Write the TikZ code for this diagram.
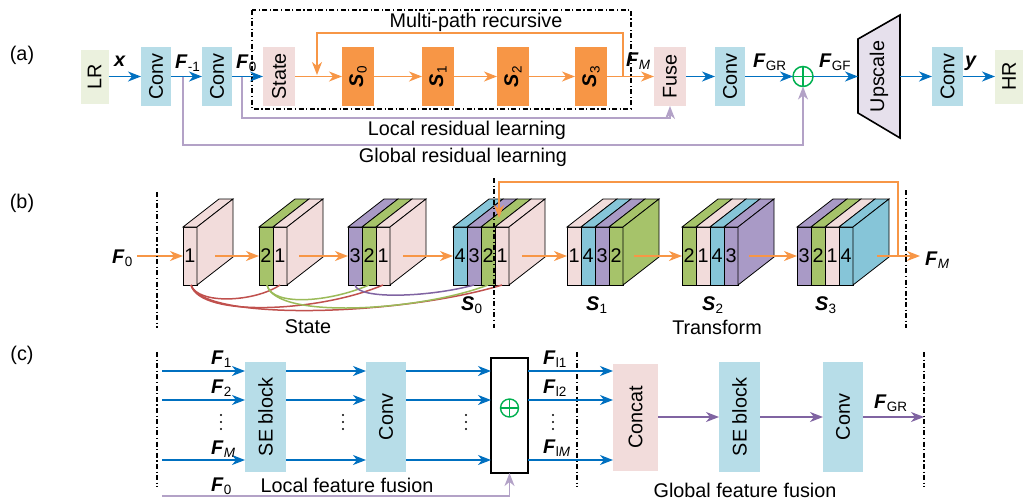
\documentclass[tikz,border=0pt]{standalone}
\usepackage{fontspec}
\setmainfont{Liberation Sans}
\usepackage{graphicx}
\usetikzlibrary{arrows.meta}
\definecolor{cblue}{HTML}{0070C0}
\definecolor{corange}{HTML}{F79646}
\definecolor{cpurl}{HTML}{B3A2C7}
\definecolor{cpurd}{HTML}{8064A2}
\definecolor{pgreen}{HTML}{00B050}
\definecolor{lrc}{HTML}{EBF1DE}
\definecolor{convc}{HTML}{B7DDE8}
\definecolor{pinkc}{HTML}{F2DCDB}
\definecolor{upc}{HTML}{E6E0EC}
\definecolor{Lpink}{HTML}{F2DCDB}
\definecolor{Lgreen}{HTML}{A6C36A}
\definecolor{Lblue}{HTML}{86C5D8}
\definecolor{Lpurp}{HTML}{A99AC6}
\definecolor{cred}{HTML}{C0504D}
\definecolor{cgrn}{HTML}{9BBB59}
\newcommand\Fl[1]{\textbf{\textit{F}}\kern0.3pt\raisebox{-3.5pt}{\fontsize{13.5}{14}\selectfont #1}}
\newcommand\Sl[1]{\textbf{\textit{S}}\kern0.3pt\raisebox{-3.5pt}{\fontsize{13.5}{14}\selectfont #1}}
\newcommand\vdotsat[2]{%
  \fill[black] (#1,{#2-7}) circle (1.1pt) (#1,#2) circle (1.1pt) (#1,{#2+7}) circle (1.1pt);}
\newcommand\lay[4]{%
  \filldraw[fill=#2, draw=black, line width=0.8pt] (#1,227) rectangle ++(14,58);
  \filldraw[fill=#2, draw=black, line width=0.8pt] (#1,227) -- ++(36,-28) -- ++(14,0) -- ++(-36,28) -- cycle;
  \node (#4) at ({#1+7},256) {#3};}
\newcommand\sidef[2]{%
  \filldraw[fill=#2, draw=black, line width=0.8pt] (#1,227) -- ++(36,-28) -- ++(0,58) -- ++(-36,28) -- cycle;}
\begin{document}
\begin{tikzpicture}[x=1pt,y=-1pt,
  every node/.style={inner sep=0pt, outer sep=0pt},
  font=\fontsize{19.8}{23}\selectfont,
  tipx/.style={-{Stealth[length=13pt,width=10pt,inset=4pt]}},
  ba/.style={draw=cblue, line width=1.6pt, tipx},
  oa/.style={draw=corange, line width=1.6pt, tipx},
  pa/.style={draw=cpurl, line width=1.6pt, tipx},
  pda/.style={draw=cpurd, line width=1.6pt, tipx},
  dd/.style={draw=black, line width=1.1pt, dash pattern=on 5pt off 2.5pt on 1.2pt off 2.5pt},
  convbox/.style={fill=convc, minimum width=30pt, minimum height=59pt},
  pinkbox/.style={fill=pinkc, minimum width=32pt, minimum height=59pt},
  sbox/.style={fill=corange, minimum width=32pt, minimum height=59pt},
  lrbox/.style={fill=lrc, minimum width=28pt, minimum height=54pt},
  tallbox/.style={minimum width=41pt, minimum height=110pt},
  lbl/.style={anchor=base west},
  curve/.style={line width=1.5pt}
]
\useasboundingbox (0,0) rectangle (1024,501);

% ---------------- (a) ----------------
\node (la) at (22,55) {(a)};
\draw[dd] (252,10) rectangle (631,109);
\node (mpr) at (476,22) {Multi-path recursive};

\node[lrbox] (lr) at (94.5,76.5) {\rotatebox{90}{LR}};
\node[convbox] (c1) at (156,76.5) {\rotatebox{90}{Conv}};
\node[convbox] (c2) at (217,76.5) {\rotatebox{90}{Conv}};
\node[pinkbox] (st) at (279,76.5) {\rotatebox{90}{State}};
\node[sbox] (s0) at (358,76.5) {\rotatebox{90}{\Sl{0}}};
\node[sbox] (s1) at (438,76.5) {\rotatebox{90}{\Sl{1}}};
\node[sbox] (s2) at (513,76.5) {\rotatebox{90}{\Sl{2}}};
\node[sbox] (s3) at (591,76.5) {\rotatebox{90}{\Sl{3}}};
\node[pinkbox] (fu) at (670,76.5) {\rotatebox{90}{Fuse}};
\node[convbox] (c3) at (730,76.5) {\rotatebox{90}{Conv}};
\node[circle, draw=pgreen, line width=1.5pt, minimum size=20pt] (pl) at (803,76.5) {};
\draw[pgreen, line width=1.5pt] (pl.north) -- (pl.south) (pl.west) -- (pl.east);
\filldraw[fill=upc, draw=black, line width=1.6pt] (858,39) -- (900,15) -- (900,138) -- (858,113) -- cycle;
\node (up) at (879,76.5) {\rotatebox{90}{Upscale}};
\coordinate (upW) at (858,76.5);
\coordinate (upE) at (900,76.5);
\node[convbox, minimum width=31pt] (c4) at (947.5,76.5) {\rotatebox{90}{Conv}};
\node[lrbox] (hr) at (1009,76.5) {\rotatebox{90}{HR}};

\draw[ba] (lr.east) -- (c1.west);
\draw[ba] (c1.east) -- (c2.west);
\draw[ba] (c2.east) -- (st.west);
\draw[oa] (st.east) -- (s0.west);
\draw[oa] (s0.east) -- (s1.west);
\draw[oa] (s1.east) -- (s2.west);
\draw[oa] (s2.east) -- (s3.west);
\draw[oa] (s3.east) -- (fu.west);
\coordinate (fbA) at (623,76.5);
\coordinate (fbB) at (317,33);
\coordinate (fbC) at (317,75);
\draw[oa] (fbA) |- (fbB) -- (fbC);
\draw[ba] (fu.east) -- (c3.west);
\draw[ba] (c3.east) -- (pl.west);
\draw[ba] (pl.east) -- (upW);
\draw[ba] (upE) -- (c4.west);
\draw[ba] (c4.east) -- (hr.west);

\coordinate (lrA) at (242,76.5);
\draw[pa] (lrA) -- ++(0,41.5) -| (fu.south);
\coordinate (grA) at (183,76.5);
\draw[pa] (grA) -- ++(0,68.5) -| (pl.south);
\node (lrl) at (467,130) {Local residual learning};
\node (grl) at (463,157) {Global residual learning};

\node[lbl] (xl) at (114,66) {\textbf{\textit{x}}};
\node[lbl] (fm1) at (175,68) {\Fl{-1}};
\node[lbl] (f0a) at (236,68) {\Fl{0}};
\node[lbl] (fma) at (626,66) {\Fl{\textit{M}}};
\node[lbl] (fgra) at (753,67) {\Fl{GR}};
\node[lbl] (fgfa) at (819,67) {\Fl{GF}};
\node[lbl] (yl) at (965,66) {\textbf{\textit{y}}};

% ---------------- (b) ----------------
\node (lb) at (22,203) {(b)};
\lay{183}{Lpink}{1}{b1a}
\sidef{197}{Lpink}
\lay{259}{Lgreen}{2}{b2a}
\lay{273}{Lpink}{1}{b2b}
\sidef{287}{Lpink}
\lay{348}{Lpurp}{3}{b3a}
\lay{362}{Lgreen}{2}{b3b}
\lay{376}{Lpink}{1}{b3c}
\sidef{390}{Lpink}
\lay{453}{Lblue}{4}{b4a}
\lay{467}{Lpurp}{3}{b4b}
\lay{481}{Lgreen}{2}{b4c}
\lay{495}{Lpink}{1}{b4d}
\sidef{509}{Lpink}
\lay{567}{Lpink}{1}{b5a}
\lay{581}{Lblue}{4}{b5b}
\lay{595}{Lpurp}{3}{b5c}
\lay{609}{Lgreen}{2}{b5d}
\sidef{623}{Lgreen}
\lay{682}{Lgreen}{2}{b6a}
\lay{696}{Lpink}{1}{b6b}
\lay{710}{Lblue}{4}{b6c}
\lay{724}{Lpurp}{3}{b6d}
\sidef{738}{Lpurp}
\lay{797}{Lpurp}{3}{b7a}
\lay{811}{Lgreen}{2}{b7b}
\lay{825}{Lpink}{1}{b7c}
\lay{839}{Lblue}{4}{b7d}
\sidef{853}{Lblue}

% curves
\coordinate (u1) at (191,285);
\coordinate (u2g) at (267,285);
\coordinate (u2p) at (280,285);
\coordinate (u3u) at (355,285);
\coordinate (u3g) at (369,285);
\coordinate (u3p) at (383,285);
\coordinate (u4u) at (474,285);
\coordinate (u4g) at (488,285);
\coordinate (u4p) at (502,285);
\draw[cred, curve] (u1) .. controls (198,305) and (255,302) .. (u2p);
\draw[cred, curve] (u1) .. controls (200,318) and (320,312) .. (u3p);
\draw[cred, curve] (u1) .. controls (202,322) and (400,316) .. (u4p);
\draw[cgrn, curve] (u2g) .. controls (272,307) and (330,302) .. (u3g);
\draw[cgrn, curve] (u2g) .. controls (275,320) and (420,311) .. (u4g);
\draw[cpurd, curve] (u3u) .. controls (358,300) and (430,297) .. (u4u);

% orange arrows
\coordinate (f0in) at (137,256);
\coordinate (o1) at (215,256);
\coordinate (o2) at (299,256);
\coordinate (o3) at (403,256);
\coordinate (o4) at (522,256);
\coordinate (o5) at (634,256);
\coordinate (o6) at (749,256);
\coordinate (o7) at (877,256);
\coordinate (fmout) at (920,256);
\draw[oa] (f0in) -- (b1a.west -| 183,256);
\draw[oa] (o1) -- (259,256);
\draw[oa] (o2) -- (348,256);
\draw[oa] (o3) -- (453,256);
\draw[oa] (o4) -- (567,256);
\draw[oa] (o5) -- (682,256);
\draw[oa] (o6) -- (797,256);
\draw[oa] (o7) -- (fmout);
\coordinate (fb2A) at (898,256);
\coordinate (fb2B) at (499,182);
\coordinate (fb2C) at (499,218);
\draw[oa] (fb2A) |- (fb2B) -- (fb2C);

\draw[dd] (157,192) -- (157,328);
\draw[dd] (494,178) -- (494,328);
\draw[dd] (906,190) -- (906,328);

\node[lbl] (f0b) at (112,263) {\Fl{0}};
\node[lbl] (fmb) at (925,265) {\Fl{\textit{M}}};
\node[lbl] (s0l) at (461,310) {\Sl{0}};
\node[lbl] (s1l) at (586,310) {\Sl{1}};
\node[lbl] (s2l) at (702,310) {\Sl{2}};
\node[lbl] (s3l) at (815,310) {\Sl{3}};
\node (stl) at (308,327) {State};
\node (trl) at (717,327) {Transform};

% ---------------- (c) ----------------
\node (lc) at (22,355) {(c)};
\draw[dd] (157,352) -- (157,487);
\draw[dd] (577,352) -- (577,487);
\draw[dd] (924,352) -- (924,487);

\node[tallbox, fill=convc] (se1) at (265.5,417) {\rotatebox{90}{SE block}};
\node[tallbox, fill=convc, minimum width=40pt] (cv1) at (386,417) {\rotatebox{90}{Conv}};
\node[draw=black, fill=white, line width=1.2pt, minimum width=37pt, minimum height=115pt] (pb) at (509.5,415.5) {};
\node[circle, draw=pgreen, line width=1.4pt, minimum size=18pt] (pl2) at (509.5,408) {};
\draw[pgreen, line width=1.4pt] (pl2.north) -- (pl2.south) (pl2.west) -- (pl2.east);
\node[fill=pinkc, minimum width=45pt, minimum height=107pt] (cc) at (635.5,417) {\rotatebox{90}{Concat}};
\node[tallbox, fill=convc] (se2) at (739.5,417) {\rotatebox{90}{SE block}};
\node[tallbox, fill=convc, minimum width=40pt] (cv2) at (843,417) {\rotatebox{90}{Conv}};

\coordinate (r1) at (162,371);
\coordinate (r2) at (162,400);
\coordinate (r3) at (162,460);
\foreach \r in {r1,r2,r3}{
  \draw[ba] (\r) -- (\r -| se1.west);
  \draw[ba] (se1.east |- \r) -- (cv1.west |- \r);
  \draw[ba] (cv1.east |- \r) -- (pb.west |- \r);
  \draw[ba] (pb.east |- \r) -- (cc.west |- \r);
}
\coordinate (f0c) at (162,496);
\draw[pa] (f0c) -| (pb.south);
\coordinate (fgr) at (924,417);
\draw[pda] (cc.east) -- (se2.west);
\draw[pda] (se2.east) -- (cv2.west);
\draw[pda] (cv2.east) -- (fgr);

\node[lbl] (f1c) at (211,364) {\Fl{1}};
\node[lbl] (f2c) at (211,393) {\Fl{2}};
\node[lbl] (fmc) at (211,454) {\Fl{\textit{M}}};
\node[lbl] (f0cl) at (211,491) {\Fl{0}};
\vdotsat{221}{422}
\vdotsat{343}{422}
\vdotsat{466}{422}
\vdotsat{553}{422}
\node[lbl] (fl1) at (543,364) {\Fl{l1}};
\node[lbl] (fl2) at (543,393) {\Fl{l2}};
\node[lbl] (flm) at (543,453) {\Fl{l\textit{M}}};
\node[lbl] (fgrc) at (874,408) {\Fl{GR}};
\node (lff) at (347,485) {Local feature fusion};
\node (gff) at (745,490) {Global feature fusion};
\end{tikzpicture}
\end{document}
